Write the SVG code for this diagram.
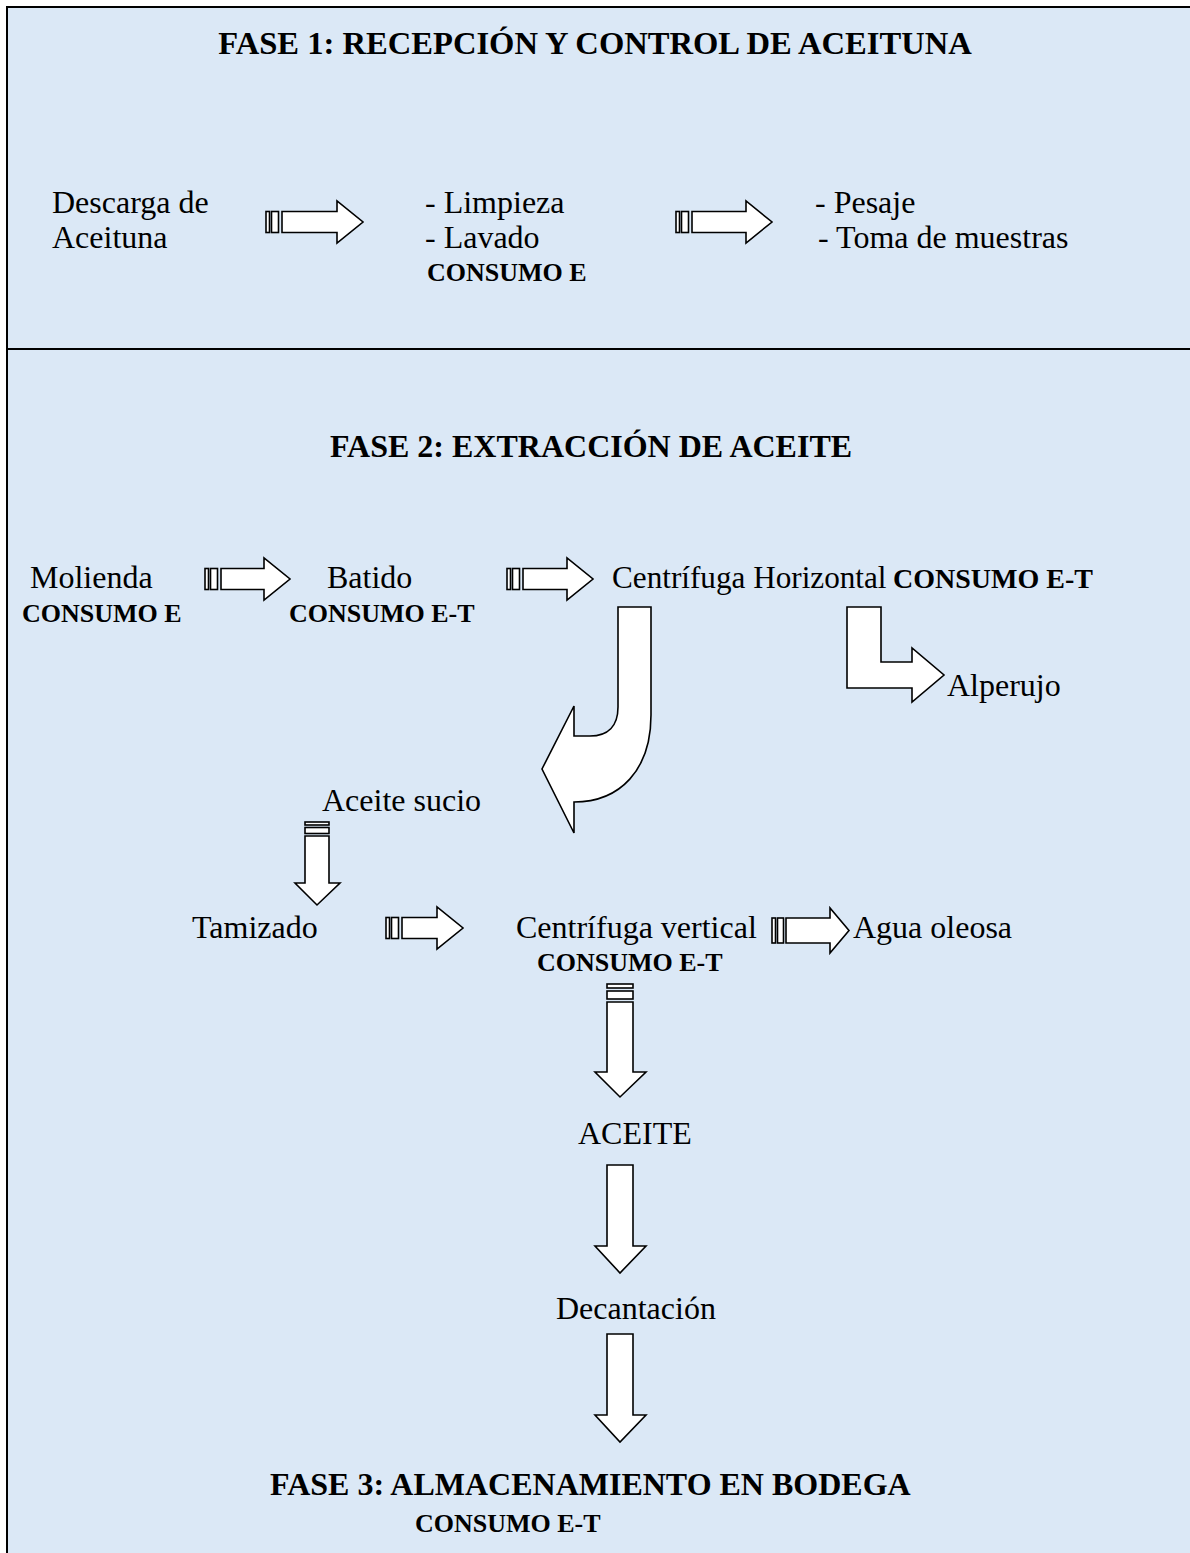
<svg xmlns="http://www.w3.org/2000/svg" width="1190" height="1553" viewBox="0 0 1190 1553">
<style>
.t{font-family:"Liberation Serif","Times New Roman",serif;font-size:32px;fill:#000}
.h{font-family:"Liberation Serif","Times New Roman",serif;font-size:32px;font-weight:bold;fill:#000}
.c{font-family:"Liberation Serif","Times New Roman",serif;font-size:26px;font-weight:bold;fill:#000}
.a{fill:#fff;stroke:#000;stroke-width:1.6;stroke-linejoin:miter}
.frame{fill:none;stroke:#000;stroke-width:2}
</style>
<rect x="0" y="0" width="1190" height="1553" fill="#ffffff"/>
<rect x="7" y="7" width="1183" height="1546" fill="#dbe8f6"/>
<g id="frame">
<line class="frame" x1="7" y1="7" x2="1190" y2="7"/>
<line class="frame" x1="7" y1="6" x2="7" y2="1553"/>
<line class="frame" x1="7" y1="349" x2="1190" y2="349"/>
</g>
<g id="fase1-title"><text class="h" x="595" y="54" text-anchor="middle" style="font-size:32.6px">FASE 1: RECEPCIÓN Y CONTROL DE ACEITUNA</text></g>
<g id="descarga"><text class="t" x="52" y="213">Descarga de</text><text class="t" x="52" y="248">Aceituna</text></g>
<g id="limpieza"><text class="t" x="425" y="213">- Limpieza</text><text class="t" x="425" y="248">- Lavado</text><text class="c" x="427" y="281">CONSUMO E</text></g>
<g id="pesaje"><text class="t" x="815" y="213">- Pesaje</text><text class="t" x="818" y="248">- Toma de muestras</text></g>
<g id="fase2-title"><text class="h" x="591" y="457" text-anchor="middle">FASE 2: EXTRACCIÓN DE ACEITE</text></g>
<g id="molienda"><text class="t" x="30" y="588">Molienda</text><text class="c" x="22" y="622">CONSUMO E</text></g>
<g id="batido"><text class="t" x="327" y="588">Batido</text><text class="c" x="289" y="622">CONSUMO E-T</text></g>
<g id="centrifuga-h"><text class="t" x="612" y="588" style="font-size:31.2px">Centrífuga Horizontal</text><text class="c" x="893" y="588" style="font-size:28px">CONSUMO E-T</text></g>
<g id="alperujo"><text class="t" x="947" y="696">Alperujo</text></g>
<g id="aceite-sucio"><text class="t" x="322" y="811">Aceite sucio</text></g>
<g id="tamizado"><text class="t" x="192" y="938">Tamizado</text></g>
<g id="centrifuga-v"><text class="t" x="516" y="938">Centrífuga vertical</text><text class="c" x="537" y="971">CONSUMO E-T</text></g>
<g id="agua-oleosa"><text class="t" x="853" y="938">Agua oleosa</text></g>
<g id="aceite"><text class="t" x="578" y="1144">ACEITE</text></g>
<g id="decantacion"><text class="t" x="556" y="1319">Decantación</text></g>
<g id="fase3"><text class="h" x="270" y="1495">FASE 3: ALMACENAMIENTO EN BODEGA</text><text class="c" x="415" y="1532">CONSUMO E-T</text></g>
<g id="connectors">
<rect class="a" x="266" y="211.5" width="3.5" height="21"/><rect class="a" x="271.5" y="211.5" width="7" height="21"/>
<path class="a" d="M282,211.5 H337 V201 L363,222 L337,243 V232.5 H282 Z"/>
<rect class="a" x="676" y="211.5" width="3.5" height="21"/><rect class="a" x="681.5" y="211.5" width="7" height="21"/>
<path class="a" d="M692,211.5 H746 V201 L772,222 L746,243 V232.5 H692 Z"/>
<rect class="a" x="205" y="568.5" width="3.5" height="21"/><rect class="a" x="210.5" y="568.5" width="7" height="21"/>
<path class="a" d="M221,568.5 H264 V558 L290,579 L264,600 V589.5 H221 Z"/>
<rect class="a" x="507" y="568.5" width="3.5" height="21"/><rect class="a" x="512.5" y="568.5" width="7" height="21"/>
<path class="a" d="M523,568.5 H567 V558 L593,579 L567,600 V589.5 H523 Z"/>
<path class="a" d="M618,607 H651 V715 C651,770 620,802 574,802 V833 L542,769 L574,706 V736 H590 C608,736 618,726 618,707 Z"/>
<path class="a" d="M847,607 H881 V662 H912 V648 L944,675 L912,702 V688 H847 Z"/>
<rect class="a" x="305" y="822" width="24" height="3"/><rect class="a" x="305" y="827.5" width="24" height="6"/>
<path class="a" d="M305,836 V883 H295 L317,905 L340,883 H329 V836 Z"/>
<rect class="a" x="386" y="917.5" width="3.5" height="21"/><rect class="a" x="391.5" y="917.5" width="7" height="21"/>
<path class="a" d="M402,917.5 H437 V907 L463,928 L437,949 V938.5 H402 Z"/>
<rect class="a" x="772" y="918" width="3.5" height="25"/><rect class="a" x="777.5" y="918" width="6" height="25"/>
<path class="a" d="M786,918 H830 V908 L849,930.5 L830,953 V943 H786 Z"/>
<rect class="a" x="607" y="984" width="26" height="4"/><rect class="a" x="607" y="991" width="26" height="8"/>
<path class="a" d="M607,1002 V1072 H595 L620,1097 L646,1072 H633 V1002 Z"/>
<path class="a" d="M607,1165 V1246 H595 L620,1273 L646,1246 H633 V1165 Z"/>
<path class="a" d="M607,1334 V1415 H595 L620,1442 L646,1415 H633 V1334 Z"/>
</g>
</svg>
